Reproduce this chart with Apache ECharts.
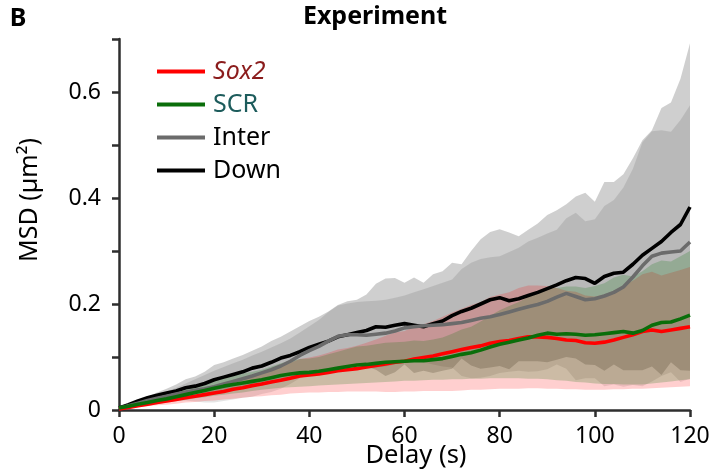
<!DOCTYPE html>
<html>
<head>
<meta charset="utf-8">
<script src="https://cdn.jsdelivr.net/npm/echarts@6/dist/echarts.min.js"></script>
<style>html,body{margin:0;padding:0;background:#fff}#c{width:713px;height:473px}</style>
</head>
<body>
<div id="c"></div>
<script>
const delay = [0,2,4,6,8,10,12,14,16,18,20,22,24,26,28,30,32,34,36,38,40,42,44,46,48,50,52,54,56,58,60,62,64,66,68,70,72,74,76,78,80,82,84,86,88,90,92,94,96,98,100,102,104,106,108,110,112,114,116,118,120];

const downMean = [0.004,0.010,0.017,0.023,0.028,0.032,0.036,0.042,0.045,0.050,0.057,0.062,0.067,0.072,0.079,0.083,0.090,0.098,0.103,0.110,0.118,0.124,0.130,0.138,0.142,0.146,0.150,0.157,0.156,0.160,0.163,0.160,0.157,0.163,0.168,0.178,0.186,0.192,0.200,0.208,0.212,0.206,0.210,0.216,0.222,0.229,0.236,0.244,0.250,0.248,0.239,0.252,0.258,0.260,0.275,0.292,0.305,0.318,0.335,0.350,0.383];
const downUpper = [0.006,0.012,0.018,0.025,0.033,0.040,0.048,0.058,0.063,0.072,0.085,0.090,0.097,0.104,0.112,0.120,0.130,0.138,0.148,0.158,0.168,0.176,0.186,0.198,0.205,0.208,0.218,0.238,0.248,0.249,0.240,0.250,0.240,0.256,0.262,0.278,0.275,0.300,0.322,0.336,0.341,0.335,0.328,0.340,0.352,0.368,0.377,0.388,0.403,0.410,0.393,0.430,0.430,0.445,0.475,0.509,0.528,0.570,0.580,0.625,0.692];
const downLower = [0.002,0.008,0.016,0.021,0.023,0.024,0.024,0.026,0.027,0.028,0.029,0.034,0.037,0.040,0.046,0.046,0.050,0.058,0.058,0.062,0.068,0.072,0.074,0.078,0.079,0.084,0.082,0.076,0.064,0.071,0.086,0.070,0.074,0.070,0.074,0.078,0.097,0.084,0.078,0.080,0.083,0.077,0.092,0.092,0.092,0.090,0.095,0.100,0.097,0.086,0.085,0.074,0.086,0.075,0.075,0.075,0.082,0.066,0.090,0.075,0.074];

const interMean = [0.003,0.008,0.013,0.018,0.022,0.026,0.030,0.034,0.037,0.040,0.044,0.049,0.054,0.059,0.064,0.070,0.076,0.083,0.092,0.103,0.112,0.120,0.130,0.139,0.142,0.142,0.141,0.143,0.145,0.149,0.155,0.157,0.159,0.160,0.161,0.163,0.165,0.169,0.173,0.176,0.180,0.185,0.190,0.195,0.199,0.205,0.213,0.220,0.214,0.208,0.210,0.215,0.222,0.232,0.251,0.272,0.290,0.296,0.298,0.300,0.317];
const interUpper = [0.005,0.010,0.016,0.022,0.028,0.035,0.042,0.050,0.058,0.066,0.074,0.081,0.088,0.095,0.103,0.110,0.118,0.126,0.135,0.146,0.158,0.170,0.185,0.197,0.201,0.204,0.205,0.206,0.208,0.212,0.216,0.222,0.228,0.234,0.240,0.246,0.266,0.278,0.285,0.288,0.290,0.298,0.306,0.318,0.325,0.333,0.340,0.362,0.372,0.356,0.360,0.385,0.396,0.420,0.455,0.505,0.526,0.528,0.525,0.547,0.575];
const interLower = [0.001,0.006,0.010,0.014,0.016,0.017,0.018,0.018,0.016,0.014,0.014,0.017,0.020,0.023,0.025,0.030,0.034,0.040,0.049,0.060,0.066,0.070,0.075,0.081,0.083,0.080,0.077,0.080,0.082,0.086,0.094,0.092,0.090,0.086,0.082,0.080,0.064,0.060,0.061,0.064,0.070,0.072,0.074,0.072,0.073,0.077,0.086,0.078,0.056,0.060,0.060,0.045,0.048,0.044,0.047,0.045,0.054,0.064,0.071,0.053,0.059];

const sox2Mean = [0.002,0.005,0.008,0.011,0.014,0.017,0.020,0.023,0.026,0.029,0.032,0.035,0.039,0.042,0.046,0.049,0.053,0.056,0.060,0.064,0.066,0.068,0.071,0.074,0.076,0.078,0.081,0.084,0.087,0.090,0.092,0.096,0.099,0.102,0.106,0.110,0.114,0.118,0.121,0.126,0.129,0.131,0.135,0.138,0.138,0.137,0.135,0.132,0.131,0.127,0.126,0.128,0.132,0.137,0.142,0.148,0.151,0.148,0.151,0.154,0.157];
const sox2Upper = [0.003,0.007,0.011,0.015,0.019,0.024,0.028,0.032,0.037,0.041,0.046,0.050,0.057,0.061,0.067,0.072,0.078,0.083,0.089,0.096,0.099,0.103,0.108,0.114,0.117,0.121,0.127,0.133,0.140,0.146,0.149,0.157,0.162,0.168,0.176,0.184,0.191,0.198,0.204,0.213,0.218,0.222,0.230,0.235,0.235,0.234,0.230,0.225,0.223,0.216,0.214,0.218,0.225,0.235,0.244,0.256,0.261,0.254,0.259,0.264,0.270];
const sox2Lower = [0.001,0.003,0.005,0.007,0.009,0.010,0.012,0.014,0.015,0.017,0.018,0.020,0.021,0.023,0.025,0.026,0.028,0.029,0.031,0.032,0.033,0.033,0.034,0.034,0.035,0.035,0.035,0.035,0.034,0.034,0.035,0.035,0.036,0.036,0.036,0.036,0.037,0.038,0.038,0.039,0.040,0.040,0.040,0.041,0.041,0.040,0.040,0.039,0.039,0.038,0.038,0.038,0.039,0.039,0.040,0.040,0.041,0.042,0.043,0.044,0.045];

const scrMean = [0.004,0.007,0.011,0.014,0.018,0.021,0.025,0.029,0.033,0.037,0.041,0.045,0.048,0.051,0.054,0.057,0.061,0.065,0.068,0.070,0.071,0.073,0.076,0.079,0.082,0.085,0.086,0.088,0.090,0.091,0.092,0.093,0.093,0.095,0.097,0.101,0.105,0.108,0.113,0.119,0.124,0.128,0.132,0.136,0.141,0.145,0.143,0.144,0.143,0.141,0.142,0.144,0.146,0.148,0.145,0.150,0.160,0.165,0.166,0.172,0.179];
const scrUpper = [0.006,0.010,0.016,0.020,0.025,0.028,0.033,0.039,0.044,0.050,0.055,0.061,0.065,0.069,0.072,0.076,0.082,0.088,0.093,0.096,0.097,0.100,0.105,0.110,0.115,0.120,0.121,0.124,0.127,0.128,0.129,0.131,0.130,0.133,0.137,0.144,0.152,0.157,0.167,0.178,0.188,0.196,0.204,0.213,0.223,0.232,0.230,0.233,0.233,0.230,0.234,0.239,0.250,0.255,0.252,0.262,0.275,0.282,0.280,0.290,0.300];
const scrLower = [0.002,0.004,0.006,0.008,0.011,0.014,0.017,0.019,0.022,0.024,0.027,0.029,0.031,0.033,0.036,0.038,0.040,0.042,0.043,0.044,0.045,0.046,0.047,0.048,0.049,0.050,0.051,0.052,0.053,0.054,0.055,0.055,0.056,0.057,0.057,0.058,0.058,0.059,0.059,0.060,0.060,0.060,0.060,0.059,0.059,0.058,0.056,0.055,0.053,0.052,0.050,0.049,0.049,0.048,0.048,0.048,0.050,0.052,0.054,0.056,0.058];

const xTicks = [0, 20, 40, 60, 80, 100, 120];
const yLabels = ['0', '0.2', '0.4', '0.6'];

const FONT = '"Noto Sans", "Open Sans", sans-serif';

function band(name, upper, lower, color) {
  return {
    type: 'custom', name: name, silent: true, z: 1,
    data: [[0, 0]],
    renderItem: function (params, api) {
      const pts = [];
      for (let i = 0; i < delay.length; i++) pts.push(api.coord([delay[i], upper[i]]));
      for (let i = delay.length - 1; i >= 0; i--) pts.push(api.coord([delay[i], lower[i]]));
      return { type: 'polygon', shape: { points: pts }, style: { fill: color } };
    }
  };
}
function line(name, vals, color) {
  return {
    type: 'line', name: name, z: 3, showSymbol: false, symbol: 'none',
    data: delay.map((d, i) => [d, vals[i]]),
    lineStyle: { color: color, width: 3.6 }, itemStyle: { color: color }
  };
}

const chart = echarts.init(document.getElementById('c'), null, { renderer: 'canvas' });
chart.setOption({
  animation: false,
  backgroundColor: '#ffffff',
  grid: { left: 119, right: 23, top: 39, bottom: 63, containLabel: false },
  xAxis: {
    type: 'value', min: 0, max: 120, interval: 20,
    axisLine: { show: true, lineStyle: { color: '#2e2e2e', width: 2.5 } },
    axisTick: { show: true, length: 7, lineStyle: { color: '#2e2e2e', width: 2.5 } },
    axisLabel: { fontSize: 23, fontFamily: FONT, color: '#000', margin: 15,
      formatter: v => xTicks.indexOf(v) >= 0 ? String(v) : '' },
    splitLine: { show: false }
  },
  yAxis: {
    type: 'value', min: 0, max: 0.7, interval: 0.1,
    axisLine: { show: true, lineStyle: { color: '#2e2e2e', width: 2.5 } },
    axisTick: { show: true, length: 7, lineStyle: { color: '#2e2e2e', width: 2.5 } },
    axisLabel: { fontSize: 23, fontFamily: FONT, color: '#000', margin: 18,
      formatter: v => { const k = Math.round(v * 10); return (k % 2 === 0) ? (yLabels[k / 2] || '') : ''; } },
    splitLine: { show: false }
  },
  legend: {
    orient: 'vertical', left: 157, top: 59, padding: 0, itemWidth: 48, itemHeight: 4, itemGap: 8, icon: 'rect',
    textStyle: { fontSize: 25, fontFamily: FONT, color: '#000', lineHeight: 25, padding: [0, 0, 0, 3] },
    data: [
      { name: 'Sox2', textStyle: { color: '#8b1c1c', fontStyle: 'italic' } },
      { name: 'SCR', textStyle: { color: '#1d5c5c' } },
      { name: 'Inter' },
      { name: 'Down' }
    ]
  },
  graphic: [
    { type: 'text', x: 18, y: 19, style: { text: 'B', font: 'bold 25px ' + FONT, fill: '#000', align: 'center', verticalAlign: 'middle' } },
    { type: 'text', x: 375, y: 17, style: { text: 'Experiment', font: 'bold 25px ' + FONT, fill: '#000', align: 'center', verticalAlign: 'middle' } },
    { type: 'text', x: 30, y: 200, rotation: Math.PI / 2, style: { text: 'MSD (µm²)', font: '25px ' + FONT, fill: '#000', align: 'center', verticalAlign: 'middle' } },
    { type: 'text', x: 416, y: 456, style: { text: 'Delay (s)', font: '25.5px ' + FONT, fill: '#000', align: 'center', verticalAlign: 'middle' } }
  ],
  series: [
    band('downBand', downUpper, downLower, 'rgba(0,0,0,0.19)'),
    band('interBand', interUpper, interLower, 'rgba(0,0,0,0.10)'),
    band('sox2Band', sox2Upper, sox2Lower, 'rgba(255,0,0,0.19)'),
    band('scrBand', scrUpper, scrLower, 'rgba(0,110,0,0.20)'),
    line('Down', downMean, '#000000'),
    line('Inter', interMean, '#6b6b6b'),
    line('Sox2', sox2Mean, '#ff0000'),
    line('SCR', scrMean, '#0a6e0a')
  ]
});
</script>
</body>
</html>
